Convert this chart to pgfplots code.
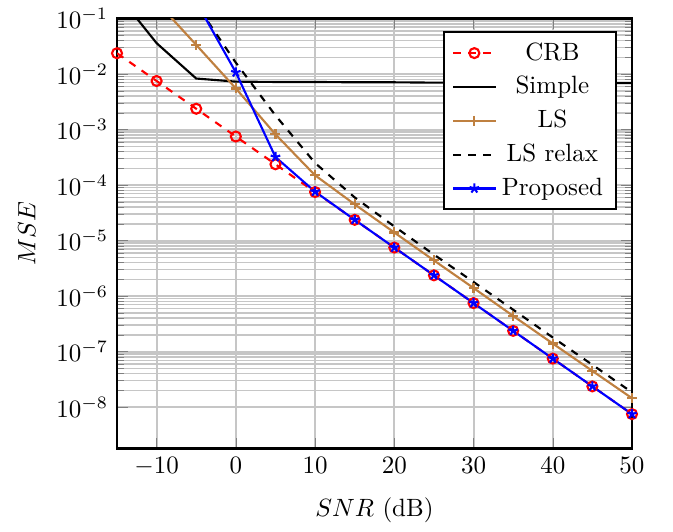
\documentclass[border=0pt]{standalone}
\usepackage{pgfplots}
\pgfplotsset{compat=1.18}
\begin{document}
\begin{tikzpicture}
\begin{semilogyaxis}[
  scale only axis,
  width=206pt, height=172pt,
  xmin=-15, xmax=50, ymin=1.8e-9, ymax=1e-1,
  xtick={-10,0,10,20,30,40,50},
  ytick={1e-8,1e-7,1e-6,1e-5,1e-4,1e-3,1e-2,1e-1},
  xmajorgrids, ymajorgrids, yminorgrids,
  major grid style={line width=0.8pt, gray!45},
  minor grid style={line width=0.6pt, gray!45},
  axis line style={line width=1.1pt},
  xlabel={$SNR$ (dB)}, ylabel={$MSE$},
  xlabel style={yshift=-2pt},
  ylabel style={yshift=1.5pt},
  legend cell align=center,
  legend style={at={(0.97,0.97)}, anchor=north east, draw=black, line width=0.8pt, row sep=1pt},
  every axis plot/.append style={line width=0.85pt},
]
\coordinate (sw) at (rel axis cs:0,0);
\coordinate (ne) at (rel axis cs:1,1);
\addplot[red, dashed, mark=o, mark options={solid, line width=0.85pt}] coordinates {
(-15,2.37e-2) (-10,7.5e-3) (-5,2.37e-3) (0,7.5e-4) (5,2.37e-4) (10,7.5e-5) (15,2.37e-5) (20,7.5e-6) (25,2.37e-6) (30,7.5e-7) (35,2.37e-7) (40,7.5e-8) (45,2.37e-8) (50,7.5e-9)};
\addlegendentry{CRB}
\addplot[black] coordinates {
(-15,0.28) (-10,3.6e-2) (-5,8.3e-3) (0,7.3e-3) (5,7.2e-3) (10,7.2e-3) (15,7.1e-3) (20,7.1e-3) (25,7.0e-3) (30,7.0e-3) (35,6.9e-3) (40,6.9e-3) (45,6.9e-3) (50,6.9e-3)};
\addlegendentry{Simple}
\addplot[brown, mark=+, mark options={solid}] coordinates {
(-15,1.0) (-10,0.2) (-5,3.35e-2) (0,5.5e-3) (5,8.2e-4) (10,1.5e-4) (15,4.5e-5) (20,1.4e-5) (25,4.4e-6) (30,1.4e-6) (35,4.4e-7) (40,1.4e-7) (45,4.5e-8) (50,1.45e-8)};
\addlegendentry{LS}
\addplot[black, dashed] coordinates {
(-15,2.0) (-10,0.8) (-5,0.18) (0,1.6e-2) (5,1.8e-3) (10,2.5e-4) (15,6e-5) (20,1.8e-5) (25,5.6e-6) (30,1.8e-6) (35,5.7e-7) (40,1.8e-7) (45,5.8e-8) (50,1.85e-8)};
\addlegendentry{LS relax}
\addplot[blue, mark=star, mark options={solid}] coordinates {
(-15,0.8) (-10,0.5) (-5,0.2) (0,1.07e-2) (5,3.2e-4) (10,7.6e-5) (15,2.37e-5) (20,7.5e-6) (25,2.37e-6) (30,7.5e-7) (35,2.37e-7) (40,7.5e-8) (45,2.37e-8) (50,7.5e-9)};
\addlegendentry{Proposed}
\end{semilogyaxis}
\path ([shift={(-46.8pt,-31.2pt)}]sw) rectangle ([shift={(16.4pt,6.8pt)}]ne);
\end{tikzpicture}
\end{document}
